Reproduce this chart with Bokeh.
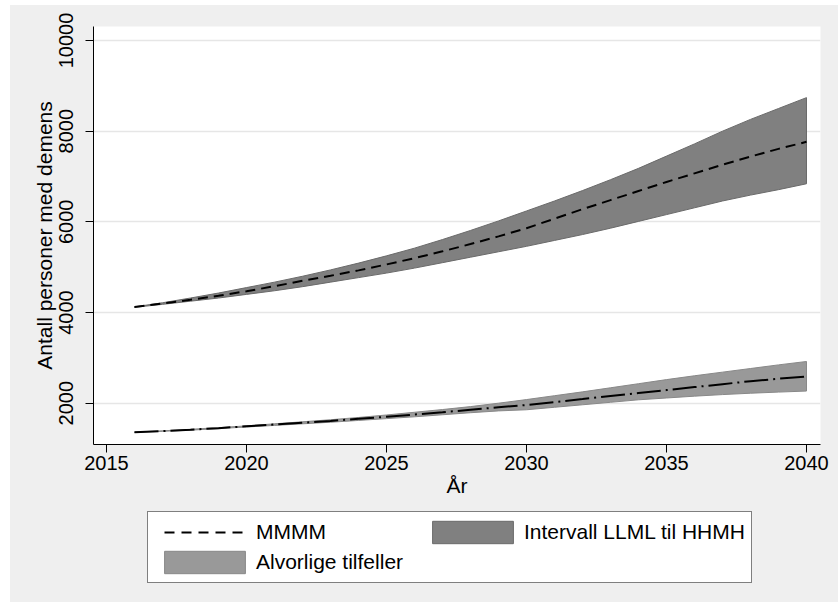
from bokeh.plotting import figure
from bokeh.models import Range1d, Legend, LegendItem, FixedTicker, Spacer
from bokeh.layouts import column, row
from bokeh.embed import file_html
from bokeh.resources import INLINE

# Projected number of people with dementia, 2016-2040
years = list(range(2016, 2041))

# Main projection (MMMM) and its interval (LLML .. HHMH)
total_mid = [4120, 4200, 4280, 4370, 4470, 4580, 4700, 4810, 4930, 5060,
             5200, 5350, 5510, 5680, 5860, 6070, 6280, 6480, 6680, 6880,
             7070, 7260, 7440, 7610, 7765]
total_low = [4115, 4180, 4250, 4320, 4400, 4480, 4570, 4670, 4770, 4870,
             4980, 5100, 5220, 5340, 5460, 5590, 5720, 5860, 6010, 6160,
             6310, 6460, 6590, 6710, 6840]
total_high = [4125, 4215, 4320, 4430, 4550, 4670, 4800, 4940, 5090, 5250,
              5420, 5610, 5810, 6020, 6240, 6460, 6690, 6930, 7180, 7450,
              7720, 8000, 8260, 8500, 8740]

# Severe cases (Alvorlige tilfeller)
severe_mid = [1360, 1385, 1415, 1450, 1490, 1530, 1570, 1610, 1655, 1700,
              1750, 1800, 1855, 1910, 1960, 2025, 2090, 2160, 2225, 2290,
              2355, 2420, 2485, 2540, 2590]
severe_low = [1358, 1380, 1405, 1440, 1475, 1510, 1545, 1580, 1620, 1660,
              1700, 1745, 1790, 1830, 1855, 1910, 1965, 2020, 2075, 2115,
              2155, 2190, 2220, 2245, 2268]
severe_high = [1362, 1390, 1425, 1460, 1500, 1545, 1590, 1635, 1685, 1740,
               1800, 1860, 1925, 2000, 2080, 2165, 2250, 2340, 2430, 2520,
               2605, 2685, 2765, 2845, 2920]

x_ticks = [2015, 2020, 2025, 2030, 2035, 2040]
y_ticks = [2000, 4000, 6000, 8000, 10000]

FONT = "Liberation Sans, Arial, sans-serif"
BG = "#efefef"

TOTAL_STYLE = dict(fill_color="#808080", line_color="#6a6a6a", line_width=1)
SEVERE_STYLE = dict(fill_color="#999999", line_color="#888888", line_width=1)
MID_STYLE = dict(line_color="black", line_width=2, line_dash="10 6")
# legend key for the dashed line: five dashes inset like the area keys
MID_KEY_STYLE = dict(line_color="black", line_width=2,
                     line_dash="0 10 10 7 10 7 10 7 10 7 10 40")

band_x = years + years[::-1]
total_band_y = total_high + total_low[::-1]
severe_band_y = severe_high + severe_low[::-1]

p = figure(width=828, height=505, output_backend="svg", toolbar_location=None,
           x_range=Range1d(2014.536, 2040.5), y_range=Range1d(1089, 10309),
           min_border_left=83, min_border_top=21, min_border_right=18,
           min_border_bottom=66)
p.background_fill_color = "white"
p.border_fill_color = BG
p.outline_line_color = None

# interval bands
p.patch(band_x, total_band_y, **TOTAL_STYLE)
p.patch(band_x, severe_band_y, **SEVERE_STYLE)

# central projections
p.line(years, total_mid, **MID_STYLE)
p.line(years, severe_mid, line_color="black", line_width=2,
       line_dash="24 5 2 5")

# axes
p.xaxis.ticker = FixedTicker(ticks=x_ticks)
p.yaxis.ticker = FixedTicker(ticks=y_ticks)
for ax in (p.xaxis[0], p.yaxis[0]):
    ax.axis_line_color = "black"
    ax.axis_line_width = 1
    ax.major_tick_line_color = "black"
    ax.major_tick_out = 8
    ax.major_tick_in = 0
    ax.minor_tick_line_color = None
    ax.major_label_text_font = FONT
    ax.major_label_text_font_size = "20px"
    ax.major_label_text_color = "black"
    ax.axis_label_text_font = FONT
    ax.axis_label_text_font_size = "21px"
    ax.axis_label_text_font_style = "normal"
    ax.axis_label_text_color = "black"

p.xaxis.axis_label = "År"
p.xaxis.major_label_standoff = 3
p.xaxis.axis_label_standoff = 1
p.yaxis.axis_label = "Antall personer med demens"
p.yaxis.major_label_orientation = "vertical"
p.yaxis.major_label_standoff = 12
p.yaxis.axis_label_standoff = 1

p.xgrid.grid_line_color = None
p.ygrid.grid_line_color = "#e6e6e6"
p.ygrid.grid_line_width = 1.5

# legend strip underneath the chart; its key renderers reuse the series
# data but sit outside the strip's visible range, so only the legend shows
leg = figure(width=828, height=92, output_backend="svg", toolbar_location=None,
             x_range=Range1d(0, 1), y_range=Range1d(0, 1),
             x_axis_location=None, y_axis_location=None,
             min_border=0, min_border_left=0, min_border_right=0,
             min_border_top=0, min_border_bottom=0)
leg.grid.visible = False
leg.outline_line_color = None
leg.background_fill_color = BG
leg.border_fill_color = BG

k_mid = leg.line(years, total_mid, **MID_KEY_STYLE)
k_total = leg.patch(band_x, total_band_y, **TOTAL_STYLE)
k_severe = leg.patch(band_x, severe_band_y, **SEVERE_STYLE)

legend = Legend(
    items=[LegendItem(label="MMMM", renderers=[k_mid]),
           LegendItem(label="Intervall LLML til HHMH", renderers=[k_total]),
           LegendItem(label="Alvorlige tilfeller", renderers=[k_severe])],
    orientation="horizontal", nrows=2,
    location=(54, 19),
    glyph_width=101, glyph_height=28, label_height=22, label_width=164,
    label_standoff=1, spacing=2, padding=6,
    label_text_font=FONT, label_text_font_size="21px",
    label_text_color="black",
    border_line_color="black", border_line_width=1,
    background_fill_color="white", background_fill_alpha=1.0,
)
leg.add_layout(legend, "center")

chart = column(p, leg, styles={"background-color": BG})
layout = column(Spacer(height=5), row(Spacer(width=10), chart))
open("out.html", "w").write(file_html(layout, INLINE))
